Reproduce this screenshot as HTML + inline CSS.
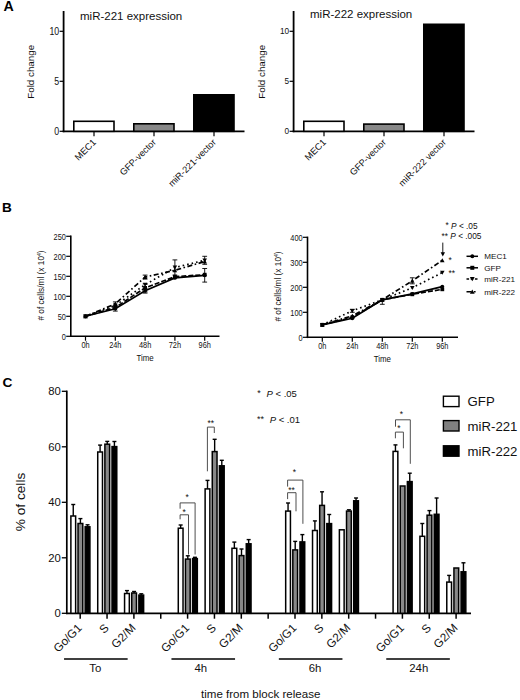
<!DOCTYPE html>
<html lang="en">
<head>
<meta charset="utf-8">
<title>miR-221 / miR-222 expression figure</title>
<style>
html,body{margin:0;padding:0;background:#fff;}
body{width:520px;height:700px;overflow:hidden;}
svg{display:block;font-family:"Liberation Sans", sans-serif;}
</style>
</head>
<body>
<svg width="520" height="700" viewBox="0 0 520 700">
<rect x="0" y="0" width="520" height="700" fill="#fff"/>
<g id="panelA">
<text x="3.60" y="11.40" font-size="14.2" text-anchor="start" fill="#000" font-weight="bold">A</text>
<line x1="63.60" y1="11.00" x2="63.60" y2="132.20" stroke="#000" stroke-width="1.8" />
<line x1="62.70" y1="131.30" x2="244.50" y2="131.30" stroke="#000" stroke-width="1.8" />
<line x1="59.60" y1="131.30" x2="63.60" y2="131.30" stroke="#000" stroke-width="1.2" />
<text transform="translate(59.20,134.90) scale(0.88,1)" font-size="10.0" text-anchor="end" fill="#111" >0</text>
<line x1="59.60" y1="81.30" x2="63.60" y2="81.30" stroke="#000" stroke-width="1.2" />
<text transform="translate(59.20,84.90) scale(0.88,1)" font-size="10.0" text-anchor="end" fill="#111" >5</text>
<line x1="59.60" y1="31.30" x2="63.60" y2="31.30" stroke="#000" stroke-width="1.2" />
<text transform="translate(59.20,34.90) scale(0.88,1)" font-size="10.0" text-anchor="end" fill="#111" >10</text>
<rect x="73.80" y="121.30" width="40.20" height="10.00" fill="#fff" stroke="#000" stroke-width="1.6"/>
<rect x="133.80" y="123.80" width="40.20" height="7.50" fill="#888888" stroke="#000" stroke-width="1.6"/>
<rect x="193.80" y="94.80" width="40.20" height="36.50" fill="#000" stroke="#000" stroke-width="1.6"/>
<line x1="94.00" y1="131.30" x2="94.00" y2="136.30" stroke="#000" stroke-width="1.2" />
<text transform="translate(96.60,142.90) rotate(-45)" font-size="9.2" text-anchor="end" fill="#111" >MEC1</text>
<line x1="154.00" y1="131.30" x2="154.00" y2="136.30" stroke="#000" stroke-width="1.2" />
<text transform="translate(156.60,142.90) rotate(-45)" font-size="9.2" text-anchor="end" fill="#111" >GFP-vector</text>
<line x1="214.00" y1="131.30" x2="214.00" y2="136.30" stroke="#000" stroke-width="1.2" />
<text transform="translate(216.60,142.90) rotate(-45)" font-size="9.2" text-anchor="end" fill="#111" >miR-221-vector</text>
<text x="80.00" y="20.30" font-size="11.5" text-anchor="start" fill="#111" >miR-221 expression</text>
<text transform="translate(33.80,71.80) rotate(-90)" font-size="9.8" text-anchor="middle" fill="#111" >Fold change</text>
<line x1="293.60" y1="11.00" x2="293.60" y2="132.20" stroke="#000" stroke-width="1.8" />
<line x1="292.70" y1="131.30" x2="474.50" y2="131.30" stroke="#000" stroke-width="1.8" />
<line x1="289.60" y1="131.30" x2="293.60" y2="131.30" stroke="#000" stroke-width="1.2" />
<text transform="translate(289.20,134.40) scale(0.97,1)" font-size="8.5" text-anchor="end" fill="#111" >0</text>
<line x1="289.60" y1="81.30" x2="293.60" y2="81.30" stroke="#000" stroke-width="1.2" />
<text transform="translate(289.20,84.40) scale(0.97,1)" font-size="8.5" text-anchor="end" fill="#111" >5</text>
<line x1="289.60" y1="31.30" x2="293.60" y2="31.30" stroke="#000" stroke-width="1.2" />
<text transform="translate(289.20,34.40) scale(0.97,1)" font-size="8.5" text-anchor="end" fill="#111" >10</text>
<rect x="303.80" y="121.30" width="40.20" height="10.00" fill="#fff" stroke="#000" stroke-width="1.6"/>
<rect x="363.80" y="124.10" width="40.20" height="7.20" fill="#888888" stroke="#000" stroke-width="1.6"/>
<rect x="423.80" y="24.30" width="40.20" height="107.00" fill="#000" stroke="#000" stroke-width="1.6"/>
<line x1="324.00" y1="131.30" x2="324.00" y2="136.30" stroke="#000" stroke-width="1.2" />
<text transform="translate(326.60,142.90) rotate(-45)" font-size="9.2" text-anchor="end" fill="#111" >MEC1</text>
<line x1="384.00" y1="131.30" x2="384.00" y2="136.30" stroke="#000" stroke-width="1.2" />
<text transform="translate(386.60,142.90) rotate(-45)" font-size="9.2" text-anchor="end" fill="#111" >GFP-vector</text>
<line x1="444.00" y1="131.30" x2="444.00" y2="136.30" stroke="#000" stroke-width="1.2" />
<text transform="translate(446.60,142.90) rotate(-45)" font-size="9.2" text-anchor="end" fill="#111" >miR-222 vector</text>
<text x="310.00" y="17.80" font-size="11.5" text-anchor="start" fill="#111" >miR-222 expression</text>
<text transform="translate(264.60,71.80) rotate(-90)" font-size="9.8" text-anchor="middle" fill="#111" >Fold change</text>
</g>
<g id="panelB">
<text x="2.00" y="212.40" font-size="13.6" text-anchor="start" fill="#000" font-weight="bold">B</text>
<line x1="70.80" y1="235.60" x2="70.80" y2="337.10" stroke="#000" stroke-width="1.6" />
<line x1="70.00" y1="336.30" x2="219.50" y2="336.30" stroke="#000" stroke-width="1.6" />
<line x1="66.20" y1="336.30" x2="70.80" y2="336.30" stroke="#000" stroke-width="1.2" />
<text transform="translate(65.90,339.80) scale(0.87,1)" font-size="8.5" text-anchor="end" fill="#111" >0</text>
<line x1="66.20" y1="316.30" x2="70.80" y2="316.30" stroke="#000" stroke-width="1.2" />
<text transform="translate(65.90,319.80) scale(0.87,1)" font-size="8.5" text-anchor="end" fill="#111" >50</text>
<line x1="66.20" y1="296.30" x2="70.80" y2="296.30" stroke="#000" stroke-width="1.2" />
<text transform="translate(65.90,299.80) scale(0.87,1)" font-size="8.5" text-anchor="end" fill="#111" >100</text>
<line x1="66.20" y1="276.30" x2="70.80" y2="276.30" stroke="#000" stroke-width="1.2" />
<text transform="translate(65.90,279.80) scale(0.87,1)" font-size="8.5" text-anchor="end" fill="#111" >150</text>
<line x1="66.20" y1="256.30" x2="70.80" y2="256.30" stroke="#000" stroke-width="1.2" />
<text transform="translate(65.90,259.80) scale(0.87,1)" font-size="8.5" text-anchor="end" fill="#111" >200</text>
<line x1="66.20" y1="236.30" x2="70.80" y2="236.30" stroke="#000" stroke-width="1.2" />
<text transform="translate(65.90,239.80) scale(0.87,1)" font-size="8.5" text-anchor="end" fill="#111" >250</text>
<line x1="85.50" y1="336.30" x2="85.50" y2="340.70" stroke="#000" stroke-width="1.2" />
<text transform="translate(85.50,347.90) scale(0.87,1)" font-size="8.5" text-anchor="middle" fill="#111" >0h</text>
<line x1="115.30" y1="336.30" x2="115.30" y2="340.70" stroke="#000" stroke-width="1.2" />
<text transform="translate(115.30,347.90) scale(0.87,1)" font-size="8.5" text-anchor="middle" fill="#111" >24h</text>
<line x1="145.10" y1="336.30" x2="145.10" y2="340.70" stroke="#000" stroke-width="1.2" />
<text transform="translate(145.10,347.90) scale(0.87,1)" font-size="8.5" text-anchor="middle" fill="#111" >48h</text>
<line x1="174.90" y1="336.30" x2="174.90" y2="340.70" stroke="#000" stroke-width="1.2" />
<text transform="translate(174.90,347.90) scale(0.87,1)" font-size="8.5" text-anchor="middle" fill="#111" >72h</text>
<line x1="204.70" y1="336.30" x2="204.70" y2="340.70" stroke="#000" stroke-width="1.2" />
<text transform="translate(204.70,347.90) scale(0.87,1)" font-size="8.5" text-anchor="middle" fill="#111" >96h</text>
<text transform="translate(145.10,360.90) scale(0.9,1)" font-size="8.8" text-anchor="middle" fill="#111" >Time</text>
<text transform="translate(44.3,285.50) rotate(-90)" font-size="8.3" text-anchor="middle" fill="#111"># of cells/ml (x 10<tspan font-size="5" dy="-3">4</tspan><tspan dy="3">)</tspan></text>
<polyline points="85.50,316.30 115.30,308.70 145.10,290.70 174.90,277.90 204.70,275.30" fill="none" stroke="#000" stroke-width="1.7" />
<circle cx="85.50" cy="316.30" r="1.90" fill="#000"/>
<line x1="115.30" y1="306.30" x2="115.30" y2="311.10" stroke="#000" stroke-width="0.9" />
<line x1="112.90" y1="306.30" x2="117.70" y2="306.30" stroke="#000" stroke-width="0.9" />
<line x1="112.90" y1="311.10" x2="117.70" y2="311.10" stroke="#000" stroke-width="0.9" />
<circle cx="115.30" cy="308.70" r="1.90" fill="#000"/>
<line x1="145.10" y1="288.30" x2="145.10" y2="293.10" stroke="#000" stroke-width="0.9" />
<line x1="142.70" y1="288.30" x2="147.50" y2="288.30" stroke="#000" stroke-width="0.9" />
<line x1="142.70" y1="293.10" x2="147.50" y2="293.10" stroke="#000" stroke-width="0.9" />
<circle cx="145.10" cy="290.70" r="1.90" fill="#000"/>
<circle cx="174.90" cy="277.90" r="1.90" fill="#000"/>
<line x1="204.70" y1="268.50" x2="204.70" y2="282.10" stroke="#000" stroke-width="0.9" />
<line x1="202.30" y1="268.50" x2="207.10" y2="268.50" stroke="#000" stroke-width="0.9" />
<line x1="202.30" y1="282.10" x2="207.10" y2="282.10" stroke="#000" stroke-width="0.9" />
<circle cx="204.70" cy="275.30" r="1.90" fill="#000"/>
<polyline points="85.50,316.30 115.30,307.50 145.10,287.90 174.90,276.70 204.70,274.70" fill="none" stroke="#000" stroke-width="1.7" stroke-dasharray="5 2"/>
<rect x="83.60" y="314.40" width="3.80" height="3.80" fill="#000"/>
<rect x="113.40" y="305.60" width="3.80" height="3.80" fill="#000"/>
<line x1="145.10" y1="283.90" x2="145.10" y2="291.90" stroke="#000" stroke-width="0.9" />
<line x1="142.70" y1="283.90" x2="147.50" y2="283.90" stroke="#000" stroke-width="0.9" />
<line x1="142.70" y1="291.90" x2="147.50" y2="291.90" stroke="#000" stroke-width="0.9" />
<rect x="143.20" y="286.00" width="3.80" height="3.80" fill="#000"/>
<rect x="173.00" y="274.80" width="3.80" height="3.80" fill="#000"/>
<rect x="202.80" y="272.80" width="3.80" height="3.80" fill="#000"/>
<polyline points="85.50,316.30 115.30,305.50 145.10,284.70 174.90,267.50 204.70,260.30" fill="none" stroke="#000" stroke-width="1.7" stroke-dasharray="1.6 3"/>
<path d="M83.22 314.40 L87.78 314.40 L85.50 318.39 Z" fill="#000"/>
<path d="M113.02 303.60 L117.58 303.60 L115.30 307.59 Z" fill="#000"/>
<path d="M142.82 282.80 L147.38 282.80 L145.10 286.79 Z" fill="#000"/>
<line x1="174.90" y1="259.90" x2="174.90" y2="275.10" stroke="#000" stroke-width="0.9" />
<line x1="172.50" y1="259.90" x2="177.30" y2="259.90" stroke="#000" stroke-width="0.9" />
<line x1="172.50" y1="275.10" x2="177.30" y2="275.10" stroke="#000" stroke-width="0.9" />
<path d="M172.62 265.60 L177.18 265.60 L174.90 269.59 Z" fill="#000"/>
<line x1="204.70" y1="256.30" x2="204.70" y2="264.30" stroke="#000" stroke-width="0.9" />
<line x1="202.30" y1="256.30" x2="207.10" y2="256.30" stroke="#000" stroke-width="0.9" />
<line x1="202.30" y1="264.30" x2="207.10" y2="264.30" stroke="#000" stroke-width="0.9" />
<path d="M202.42 258.40 L206.98 258.40 L204.70 262.39 Z" fill="#000"/>
<polyline points="85.50,316.30 115.30,303.90 145.10,277.10 174.90,270.30 204.70,261.50" fill="none" stroke="#000" stroke-width="1.7" stroke-dasharray="5 2.5 1.6 2.5"/>
<path d="M83.22 318.20 L87.78 318.20 L85.50 314.21 Z" fill="#000"/>
<line x1="115.30" y1="301.90" x2="115.30" y2="305.90" stroke="#000" stroke-width="0.9" />
<line x1="112.90" y1="301.90" x2="117.70" y2="301.90" stroke="#000" stroke-width="0.9" />
<line x1="112.90" y1="305.90" x2="117.70" y2="305.90" stroke="#000" stroke-width="0.9" />
<path d="M113.02 305.80 L117.58 305.80 L115.30 301.81 Z" fill="#000"/>
<line x1="145.10" y1="275.10" x2="145.10" y2="279.10" stroke="#000" stroke-width="0.9" />
<line x1="142.70" y1="275.10" x2="147.50" y2="275.10" stroke="#000" stroke-width="0.9" />
<line x1="142.70" y1="279.10" x2="147.50" y2="279.10" stroke="#000" stroke-width="0.9" />
<path d="M142.82 279.00 L147.38 279.00 L145.10 275.01 Z" fill="#000"/>
<path d="M172.62 272.20 L177.18 272.20 L174.90 268.21 Z" fill="#000"/>
<path d="M202.42 263.40 L206.98 263.40 L204.70 259.41 Z" fill="#000"/>
<line x1="307.50" y1="236.60" x2="307.50" y2="338.10" stroke="#000" stroke-width="1.6" />
<line x1="306.70" y1="337.30" x2="458.00" y2="337.30" stroke="#000" stroke-width="1.6" />
<line x1="302.90" y1="337.30" x2="307.50" y2="337.30" stroke="#000" stroke-width="1.2" />
<text transform="translate(302.60,340.80) scale(0.87,1)" font-size="8.5" text-anchor="end" fill="#111" >0</text>
<line x1="302.90" y1="312.30" x2="307.50" y2="312.30" stroke="#000" stroke-width="1.2" />
<text transform="translate(302.60,315.80) scale(0.87,1)" font-size="8.5" text-anchor="end" fill="#111" >100</text>
<line x1="302.90" y1="287.30" x2="307.50" y2="287.30" stroke="#000" stroke-width="1.2" />
<text transform="translate(302.60,290.80) scale(0.87,1)" font-size="8.5" text-anchor="end" fill="#111" >200</text>
<line x1="302.90" y1="262.30" x2="307.50" y2="262.30" stroke="#000" stroke-width="1.2" />
<text transform="translate(302.60,265.80) scale(0.87,1)" font-size="8.5" text-anchor="end" fill="#111" >300</text>
<line x1="302.90" y1="237.30" x2="307.50" y2="237.30" stroke="#000" stroke-width="1.2" />
<text transform="translate(302.60,240.80) scale(0.87,1)" font-size="8.5" text-anchor="end" fill="#111" >400</text>
<line x1="322.30" y1="337.30" x2="322.30" y2="341.70" stroke="#000" stroke-width="1.2" />
<text transform="translate(322.30,348.90) scale(0.87,1)" font-size="8.5" text-anchor="middle" fill="#111" >0h</text>
<line x1="352.30" y1="337.30" x2="352.30" y2="341.70" stroke="#000" stroke-width="1.2" />
<text transform="translate(352.30,348.90) scale(0.87,1)" font-size="8.5" text-anchor="middle" fill="#111" >24h</text>
<line x1="382.30" y1="337.30" x2="382.30" y2="341.70" stroke="#000" stroke-width="1.2" />
<text transform="translate(382.30,348.90) scale(0.87,1)" font-size="8.5" text-anchor="middle" fill="#111" >48h</text>
<line x1="412.30" y1="337.30" x2="412.30" y2="341.70" stroke="#000" stroke-width="1.2" />
<text transform="translate(412.30,348.90) scale(0.87,1)" font-size="8.5" text-anchor="middle" fill="#111" >72h</text>
<line x1="442.30" y1="337.30" x2="442.30" y2="341.70" stroke="#000" stroke-width="1.2" />
<text transform="translate(442.30,348.90) scale(0.87,1)" font-size="8.5" text-anchor="middle" fill="#111" >96h</text>
<text transform="translate(382.30,361.90) scale(0.9,1)" font-size="8.8" text-anchor="middle" fill="#111" >Time</text>
<text transform="translate(281.0,286.50) rotate(-90)" font-size="8.3" text-anchor="middle" fill="#111"># of cells/ml (x 10<tspan font-size="5" dy="-3">4</tspan><tspan dy="3">)</tspan></text>
<polyline points="322.30,324.80 352.30,318.30 382.30,299.80 412.30,293.80 442.30,286.55" fill="none" stroke="#000" stroke-width="1.7" />
<circle cx="322.30" cy="324.80" r="1.90" fill="#000"/>
<circle cx="352.30" cy="318.30" r="1.90" fill="#000"/>
<line x1="382.30" y1="299.80" x2="382.30" y2="304.30" stroke="#000" stroke-width="0.9" />
<line x1="379.90" y1="304.30" x2="384.70" y2="304.30" stroke="#000" stroke-width="0.9" />
<circle cx="382.30" cy="299.80" r="1.90" fill="#000"/>
<circle cx="412.30" cy="293.80" r="1.90" fill="#000"/>
<circle cx="442.30" cy="286.55" r="1.90" fill="#000"/>
<polyline points="322.30,324.80 352.30,317.30 382.30,299.80 412.30,294.30 442.30,289.30" fill="none" stroke="#000" stroke-width="1.7" stroke-dasharray="5 2"/>
<rect x="320.40" y="322.90" width="3.80" height="3.80" fill="#000"/>
<rect x="350.40" y="315.40" width="3.80" height="3.80" fill="#000"/>
<rect x="380.40" y="297.90" width="3.80" height="3.80" fill="#000"/>
<rect x="410.40" y="292.40" width="3.80" height="3.80" fill="#000"/>
<rect x="440.40" y="287.40" width="3.80" height="3.80" fill="#000"/>
<polyline points="322.30,324.80 352.30,310.80 382.30,299.80 412.30,287.80 442.30,272.55" fill="none" stroke="#000" stroke-width="1.7" stroke-dasharray="1.6 3"/>
<path d="M320.02 322.90 L324.58 322.90 L322.30 326.89 Z" fill="#000"/>
<line x1="352.30" y1="309.30" x2="352.30" y2="312.30" stroke="#000" stroke-width="0.9" />
<line x1="349.90" y1="309.30" x2="354.70" y2="309.30" stroke="#000" stroke-width="0.9" />
<line x1="349.90" y1="312.30" x2="354.70" y2="312.30" stroke="#000" stroke-width="0.9" />
<path d="M350.02 308.90 L354.58 308.90 L352.30 312.89 Z" fill="#000"/>
<path d="M380.02 297.90 L384.58 297.90 L382.30 301.89 Z" fill="#000"/>
<path d="M410.02 285.90 L414.58 285.90 L412.30 289.89 Z" fill="#000"/>
<path d="M440.02 270.65 L444.58 270.65 L442.30 274.64 Z" fill="#000"/>
<polyline points="322.30,324.80 352.30,315.80 382.30,299.80 412.30,280.80 442.30,260.30" fill="none" stroke="#000" stroke-width="1.7" stroke-dasharray="5 2.5 1.6 2.5"/>
<path d="M320.02 326.70 L324.58 326.70 L322.30 322.71 Z" fill="#000"/>
<path d="M350.02 317.70 L354.58 317.70 L352.30 313.71 Z" fill="#000"/>
<path d="M380.02 301.70 L384.58 301.70 L382.30 297.71 Z" fill="#000"/>
<line x1="412.30" y1="277.80" x2="412.30" y2="283.80" stroke="#000" stroke-width="0.9" />
<line x1="409.90" y1="277.80" x2="414.70" y2="277.80" stroke="#000" stroke-width="0.9" />
<line x1="409.90" y1="283.80" x2="414.70" y2="283.80" stroke="#000" stroke-width="0.9" />
<path d="M410.02 282.70 L414.58 282.70 L412.30 278.71 Z" fill="#000"/>
<path d="M440.02 262.20 L444.58 262.20 L442.30 258.21 Z" fill="#000"/>
<text x="445.50" y="229.20" font-size="8.3" text-anchor="start" fill="#111" ><tspan dy="-1.1">*</tspan><tspan dy="1.1"> </tspan><tspan font-style="italic">P</tspan> &lt; .05</text>
<text x="441.50" y="239.30" font-size="8.3" text-anchor="start" fill="#111" ><tspan dy="-0.8">**</tspan><tspan dy="0.8"> </tspan><tspan font-style="italic">P</tspan> &lt; .005</text>
<line x1="442.80" y1="242.60" x2="442.80" y2="254.00" stroke="#000" stroke-width="0.9" />
<path d="M440.6 252.2 L442.8 256.6 L445 252.2 Z" fill="#000"/>
<text x="448.50" y="263.00" font-size="8.5" text-anchor="start" fill="#111" >*</text>
<text x="448.50" y="275.50" font-size="8.5" text-anchor="start" fill="#111" >**</text>
<line x1="466.5" y1="256.3" x2="478" y2="256.3" stroke="#000" stroke-width="1.5" />
<circle cx="472.30" cy="256.30" r="2.00" fill="#000"/>
<text x="484.30" y="259.20" font-size="8.1" text-anchor="start" fill="#111" >MEC1</text>
<line x1="466.5" y1="267.8" x2="478" y2="267.8" stroke="#000" stroke-width="1.5" />
<rect x="470.30" y="265.80" width="4.00" height="4.00" fill="#000"/>
<text x="484.30" y="270.70" font-size="8.1" text-anchor="start" fill="#111" >GFP</text>
<line x1="466.5" y1="279.0" x2="478" y2="279.0" stroke="#000" stroke-width="1.5" stroke-dasharray='2.6 1.6'/>
<path d="M469.90 277.00 L474.70 277.00 L472.30 281.20 Z" fill="#000"/>
<text x="484.30" y="281.90" font-size="8.1" text-anchor="start" fill="#111" >miR-221</text>
<line x1="466.5" y1="291.8" x2="478" y2="291.8" stroke="#000" stroke-width="1.5" stroke-dasharray="5 2.5 1.6 2.5"/>
<path d="M469.90 293.80 L474.70 293.80 L472.30 289.60 Z" fill="#000"/>
<text x="484.30" y="294.70" font-size="8.1" text-anchor="start" fill="#111" >miR-222</text>
</g>
<g id="panelC">
<text x="2.50" y="387.10" font-size="13.7" text-anchor="start" fill="#000" font-weight="bold">C</text>
<line x1="66.80" y1="390.60" x2="66.80" y2="614.10" stroke="#000" stroke-width="1.7" />
<line x1="66.00" y1="613.30" x2="471.00" y2="613.30" stroke="#000" stroke-width="1.7" />
<line x1="61.80" y1="613.30" x2="66.80" y2="613.30" stroke="#000" stroke-width="1.3" />
<text x="60.80" y="617.30" font-size="11.3" text-anchor="end" fill="#111" >0</text>
<line x1="61.80" y1="557.80" x2="66.80" y2="557.80" stroke="#000" stroke-width="1.3" />
<text x="60.80" y="561.80" font-size="11.3" text-anchor="end" fill="#111" >20</text>
<line x1="61.80" y1="502.30" x2="66.80" y2="502.30" stroke="#000" stroke-width="1.3" />
<text x="60.80" y="506.30" font-size="11.3" text-anchor="end" fill="#111" >40</text>
<line x1="61.80" y1="446.80" x2="66.80" y2="446.80" stroke="#000" stroke-width="1.3" />
<text x="60.80" y="450.80" font-size="11.3" text-anchor="end" fill="#111" >60</text>
<line x1="61.80" y1="391.30" x2="66.80" y2="391.30" stroke="#000" stroke-width="1.3" />
<text x="60.80" y="395.30" font-size="11.3" text-anchor="end" fill="#111" >80</text>
<text transform="translate(24.60,502.00) rotate(-90)" font-size="13.7" text-anchor="middle" fill="#111" >% of cells</text>
<line x1="80.20" y1="613.30" x2="80.20" y2="618.70" stroke="#000" stroke-width="1.5" />
<line x1="73.25" y1="516.00" x2="73.25" y2="504.50" stroke="#000" stroke-width="1.4" />
<line x1="71.25" y1="504.50" x2="75.25" y2="504.50" stroke="#000" stroke-width="1.4" />
<rect x="70.88" y="516.00" width="4.75" height="97.30" fill="#fff" stroke="#000" stroke-width="1.5"/>
<line x1="80.40" y1="523.50" x2="80.40" y2="518.60" stroke="#000" stroke-width="1.4" />
<line x1="78.40" y1="518.60" x2="82.40" y2="518.60" stroke="#000" stroke-width="1.4" />
<rect x="78.03" y="523.50" width="4.75" height="89.80" fill="#888888" stroke="#000" stroke-width="1.5"/>
<line x1="87.55" y1="526.80" x2="87.55" y2="524.80" stroke="#000" stroke-width="1.4" />
<line x1="85.55" y1="524.80" x2="89.55" y2="524.80" stroke="#000" stroke-width="1.4" />
<rect x="85.17" y="526.80" width="4.75" height="86.50" fill="#000" stroke="#000" stroke-width="1.5"/>
<text transform="translate(82.60,628.70) rotate(-45)" font-size="11.7" text-anchor="end" fill="#111" >Go/G1</text>
<line x1="107.05" y1="613.30" x2="107.05" y2="618.70" stroke="#000" stroke-width="1.5" />
<line x1="100.10" y1="452.00" x2="100.10" y2="445.10" stroke="#000" stroke-width="1.4" />
<line x1="98.10" y1="445.10" x2="102.10" y2="445.10" stroke="#000" stroke-width="1.4" />
<rect x="97.73" y="452.00" width="4.75" height="161.30" fill="#fff" stroke="#000" stroke-width="1.5"/>
<line x1="107.25" y1="444.20" x2="107.25" y2="441.40" stroke="#000" stroke-width="1.4" />
<line x1="105.25" y1="441.40" x2="109.25" y2="441.40" stroke="#000" stroke-width="1.4" />
<rect x="104.88" y="444.20" width="4.75" height="169.10" fill="#888888" stroke="#000" stroke-width="1.5"/>
<line x1="114.40" y1="446.60" x2="114.40" y2="441.50" stroke="#000" stroke-width="1.4" />
<line x1="112.40" y1="441.50" x2="116.40" y2="441.50" stroke="#000" stroke-width="1.4" />
<rect x="112.03" y="446.60" width="4.75" height="166.70" fill="#000" stroke="#000" stroke-width="1.5"/>
<text transform="translate(109.45,628.70) rotate(-45)" font-size="11.7" text-anchor="end" fill="#111" >S</text>
<line x1="133.90" y1="613.30" x2="133.90" y2="618.70" stroke="#000" stroke-width="1.5" />
<line x1="126.95" y1="593.50" x2="126.95" y2="590.60" stroke="#000" stroke-width="1.4" />
<line x1="124.95" y1="590.60" x2="128.95" y2="590.60" stroke="#000" stroke-width="1.4" />
<rect x="124.57" y="593.50" width="4.75" height="19.80" fill="#fff" stroke="#000" stroke-width="1.5"/>
<line x1="134.10" y1="593.00" x2="134.10" y2="591.50" stroke="#000" stroke-width="1.4" />
<line x1="132.10" y1="591.50" x2="136.10" y2="591.50" stroke="#000" stroke-width="1.4" />
<rect x="131.72" y="593.00" width="4.75" height="20.30" fill="#888888" stroke="#000" stroke-width="1.5"/>
<line x1="141.25" y1="595.10" x2="141.25" y2="593.80" stroke="#000" stroke-width="1.4" />
<line x1="139.25" y1="593.80" x2="143.25" y2="593.80" stroke="#000" stroke-width="1.4" />
<rect x="138.88" y="595.10" width="4.75" height="18.20" fill="#000" stroke="#000" stroke-width="1.5"/>
<text transform="translate(136.30,628.70) rotate(-45)" font-size="11.7" text-anchor="end" fill="#111" >G2/M</text>
<line x1="160.75" y1="613.30" x2="160.75" y2="618.70" stroke="#000" stroke-width="1.5" />
<line x1="187.60" y1="613.30" x2="187.60" y2="618.70" stroke="#000" stroke-width="1.5" />
<line x1="180.65" y1="528.20" x2="180.65" y2="525.00" stroke="#000" stroke-width="1.4" />
<line x1="178.65" y1="525.00" x2="182.65" y2="525.00" stroke="#000" stroke-width="1.4" />
<rect x="178.28" y="528.20" width="4.75" height="85.10" fill="#fff" stroke="#000" stroke-width="1.5"/>
<line x1="187.80" y1="559.10" x2="187.80" y2="555.80" stroke="#000" stroke-width="1.4" />
<line x1="185.80" y1="555.80" x2="189.80" y2="555.80" stroke="#000" stroke-width="1.4" />
<rect x="185.43" y="559.10" width="4.75" height="54.20" fill="#888888" stroke="#000" stroke-width="1.5"/>
<line x1="194.95" y1="558.60" x2="194.95" y2="557.30" stroke="#000" stroke-width="1.4" />
<line x1="192.95" y1="557.30" x2="196.95" y2="557.30" stroke="#000" stroke-width="1.4" />
<rect x="192.58" y="558.60" width="4.75" height="54.70" fill="#000" stroke="#000" stroke-width="1.5"/>
<text transform="translate(190.00,628.70) rotate(-45)" font-size="11.7" text-anchor="end" fill="#111" >Go/G1</text>
<line x1="214.45" y1="613.30" x2="214.45" y2="618.70" stroke="#000" stroke-width="1.5" />
<line x1="207.50" y1="488.90" x2="207.50" y2="480.40" stroke="#000" stroke-width="1.4" />
<line x1="205.50" y1="480.40" x2="209.50" y2="480.40" stroke="#000" stroke-width="1.4" />
<rect x="205.12" y="488.90" width="4.75" height="124.40" fill="#fff" stroke="#000" stroke-width="1.5"/>
<line x1="214.65" y1="451.60" x2="214.65" y2="439.30" stroke="#000" stroke-width="1.4" />
<line x1="212.65" y1="439.30" x2="216.65" y2="439.30" stroke="#000" stroke-width="1.4" />
<rect x="212.27" y="451.60" width="4.75" height="161.70" fill="#888888" stroke="#000" stroke-width="1.5"/>
<line x1="221.80" y1="465.80" x2="221.80" y2="460.30" stroke="#000" stroke-width="1.4" />
<line x1="219.80" y1="460.30" x2="223.80" y2="460.30" stroke="#000" stroke-width="1.4" />
<rect x="219.42" y="465.80" width="4.75" height="147.50" fill="#000" stroke="#000" stroke-width="1.5"/>
<text transform="translate(216.85,628.70) rotate(-45)" font-size="11.7" text-anchor="end" fill="#111" >S</text>
<line x1="241.30" y1="613.30" x2="241.30" y2="618.70" stroke="#000" stroke-width="1.5" />
<line x1="234.35" y1="548.30" x2="234.35" y2="542.10" stroke="#000" stroke-width="1.4" />
<line x1="232.35" y1="542.10" x2="236.35" y2="542.10" stroke="#000" stroke-width="1.4" />
<rect x="231.97" y="548.30" width="4.75" height="65.00" fill="#fff" stroke="#000" stroke-width="1.5"/>
<line x1="241.50" y1="555.60" x2="241.50" y2="549.00" stroke="#000" stroke-width="1.4" />
<line x1="239.50" y1="549.00" x2="243.50" y2="549.00" stroke="#000" stroke-width="1.4" />
<rect x="239.12" y="555.60" width="4.75" height="57.70" fill="#888888" stroke="#000" stroke-width="1.5"/>
<line x1="248.65" y1="543.80" x2="248.65" y2="539.60" stroke="#000" stroke-width="1.4" />
<line x1="246.65" y1="539.60" x2="250.65" y2="539.60" stroke="#000" stroke-width="1.4" />
<rect x="246.28" y="543.80" width="4.75" height="69.50" fill="#000" stroke="#000" stroke-width="1.5"/>
<text transform="translate(243.70,628.70) rotate(-45)" font-size="11.7" text-anchor="end" fill="#111" >G2/M</text>
<line x1="268.15" y1="613.30" x2="268.15" y2="618.70" stroke="#000" stroke-width="1.5" />
<line x1="295.00" y1="613.30" x2="295.00" y2="618.70" stroke="#000" stroke-width="1.5" />
<line x1="288.05" y1="511.10" x2="288.05" y2="503.00" stroke="#000" stroke-width="1.4" />
<line x1="286.05" y1="503.00" x2="290.05" y2="503.00" stroke="#000" stroke-width="1.4" />
<rect x="285.68" y="511.10" width="4.75" height="102.20" fill="#fff" stroke="#000" stroke-width="1.5"/>
<line x1="295.20" y1="549.90" x2="295.20" y2="541.40" stroke="#000" stroke-width="1.4" />
<line x1="293.20" y1="541.40" x2="297.20" y2="541.40" stroke="#000" stroke-width="1.4" />
<rect x="292.82" y="549.90" width="4.75" height="63.40" fill="#888888" stroke="#000" stroke-width="1.5"/>
<line x1="302.35" y1="541.90" x2="302.35" y2="534.60" stroke="#000" stroke-width="1.4" />
<line x1="300.35" y1="534.60" x2="304.35" y2="534.60" stroke="#000" stroke-width="1.4" />
<rect x="299.98" y="541.90" width="4.75" height="71.40" fill="#000" stroke="#000" stroke-width="1.5"/>
<text transform="translate(297.40,628.70) rotate(-45)" font-size="11.7" text-anchor="end" fill="#111" >Go/G1</text>
<line x1="321.85" y1="613.30" x2="321.85" y2="618.70" stroke="#000" stroke-width="1.5" />
<line x1="314.90" y1="530.50" x2="314.90" y2="520.90" stroke="#000" stroke-width="1.4" />
<line x1="312.90" y1="520.90" x2="316.90" y2="520.90" stroke="#000" stroke-width="1.4" />
<rect x="312.53" y="530.50" width="4.75" height="82.80" fill="#fff" stroke="#000" stroke-width="1.5"/>
<line x1="322.05" y1="505.40" x2="322.05" y2="491.80" stroke="#000" stroke-width="1.4" />
<line x1="320.05" y1="491.80" x2="324.05" y2="491.80" stroke="#000" stroke-width="1.4" />
<rect x="319.68" y="505.40" width="4.75" height="107.90" fill="#888888" stroke="#000" stroke-width="1.5"/>
<line x1="329.20" y1="523.60" x2="329.20" y2="514.50" stroke="#000" stroke-width="1.4" />
<line x1="327.20" y1="514.50" x2="331.20" y2="514.50" stroke="#000" stroke-width="1.4" />
<rect x="326.83" y="523.60" width="4.75" height="89.70" fill="#000" stroke="#000" stroke-width="1.5"/>
<text transform="translate(324.25,628.70) rotate(-45)" font-size="11.7" text-anchor="end" fill="#111" >S</text>
<line x1="348.70" y1="613.30" x2="348.70" y2="618.70" stroke="#000" stroke-width="1.5" />
<rect x="339.38" y="529.80" width="4.75" height="83.50" fill="#fff" stroke="#000" stroke-width="1.5"/>
<line x1="348.90" y1="511.10" x2="348.90" y2="509.80" stroke="#000" stroke-width="1.4" />
<line x1="346.90" y1="509.80" x2="350.90" y2="509.80" stroke="#000" stroke-width="1.4" />
<rect x="346.52" y="511.10" width="4.75" height="102.20" fill="#888888" stroke="#000" stroke-width="1.5"/>
<line x1="356.05" y1="500.80" x2="356.05" y2="498.00" stroke="#000" stroke-width="1.4" />
<line x1="354.05" y1="498.00" x2="358.05" y2="498.00" stroke="#000" stroke-width="1.4" />
<rect x="353.68" y="500.80" width="4.75" height="112.50" fill="#000" stroke="#000" stroke-width="1.5"/>
<text transform="translate(351.10,628.70) rotate(-45)" font-size="11.7" text-anchor="end" fill="#111" >G2/M</text>
<line x1="375.55" y1="613.30" x2="375.55" y2="618.70" stroke="#000" stroke-width="1.5" />
<line x1="402.40" y1="613.30" x2="402.40" y2="618.70" stroke="#000" stroke-width="1.5" />
<line x1="395.45" y1="451.40" x2="395.45" y2="444.90" stroke="#000" stroke-width="1.4" />
<line x1="393.45" y1="444.90" x2="397.45" y2="444.90" stroke="#000" stroke-width="1.4" />
<rect x="393.08" y="451.40" width="4.75" height="161.90" fill="#fff" stroke="#000" stroke-width="1.5"/>
<rect x="400.23" y="486.00" width="4.75" height="127.30" fill="#888888" stroke="#000" stroke-width="1.5"/>
<line x1="409.75" y1="481.60" x2="409.75" y2="473.20" stroke="#000" stroke-width="1.4" />
<line x1="407.75" y1="473.20" x2="411.75" y2="473.20" stroke="#000" stroke-width="1.4" />
<rect x="407.38" y="481.60" width="4.75" height="131.70" fill="#000" stroke="#000" stroke-width="1.5"/>
<text transform="translate(404.80,628.70) rotate(-45)" font-size="11.7" text-anchor="end" fill="#111" >Go/G1</text>
<line x1="429.25" y1="613.30" x2="429.25" y2="618.70" stroke="#000" stroke-width="1.5" />
<line x1="422.30" y1="536.30" x2="422.30" y2="523.50" stroke="#000" stroke-width="1.4" />
<line x1="420.30" y1="523.50" x2="424.30" y2="523.50" stroke="#000" stroke-width="1.4" />
<rect x="419.93" y="536.30" width="4.75" height="77.00" fill="#fff" stroke="#000" stroke-width="1.5"/>
<line x1="429.45" y1="515.20" x2="429.45" y2="510.60" stroke="#000" stroke-width="1.4" />
<line x1="427.45" y1="510.60" x2="431.45" y2="510.60" stroke="#000" stroke-width="1.4" />
<rect x="427.07" y="515.20" width="4.75" height="98.10" fill="#888888" stroke="#000" stroke-width="1.5"/>
<line x1="436.60" y1="514.30" x2="436.60" y2="498.00" stroke="#000" stroke-width="1.4" />
<line x1="434.60" y1="498.00" x2="438.60" y2="498.00" stroke="#000" stroke-width="1.4" />
<rect x="434.23" y="514.30" width="4.75" height="99.00" fill="#000" stroke="#000" stroke-width="1.5"/>
<text transform="translate(431.65,628.70) rotate(-45)" font-size="11.7" text-anchor="end" fill="#111" >S</text>
<line x1="456.10" y1="613.30" x2="456.10" y2="618.70" stroke="#000" stroke-width="1.5" />
<line x1="449.15" y1="582.10" x2="449.15" y2="575.40" stroke="#000" stroke-width="1.4" />
<line x1="447.15" y1="575.40" x2="451.15" y2="575.40" stroke="#000" stroke-width="1.4" />
<rect x="446.78" y="582.10" width="4.75" height="31.20" fill="#fff" stroke="#000" stroke-width="1.5"/>
<rect x="453.93" y="568.00" width="4.75" height="45.30" fill="#888888" stroke="#000" stroke-width="1.5"/>
<line x1="463.45" y1="571.80" x2="463.45" y2="562.80" stroke="#000" stroke-width="1.4" />
<line x1="461.45" y1="562.80" x2="465.45" y2="562.80" stroke="#000" stroke-width="1.4" />
<rect x="461.08" y="571.80" width="4.75" height="41.50" fill="#000" stroke="#000" stroke-width="1.5"/>
<text transform="translate(458.50,628.70) rotate(-45)" font-size="11.7" text-anchor="end" fill="#111" >G2/M</text>
<line x1="64.05" y1="659.10" x2="127.65" y2="659.10" stroke="#000" stroke-width="1.5" />
<text x="95.30" y="672.00" font-size="11.4" text-anchor="middle" fill="#111" >To</text>
<line x1="171.45" y1="659.10" x2="235.05" y2="659.10" stroke="#000" stroke-width="1.5" />
<text x="200.80" y="672.00" font-size="11.4" text-anchor="middle" fill="#111" >4h</text>
<line x1="278.85" y1="659.10" x2="342.45" y2="659.10" stroke="#000" stroke-width="1.5" />
<text x="315.00" y="672.00" font-size="11.4" text-anchor="middle" fill="#111" >6h</text>
<line x1="386.25" y1="659.10" x2="449.85" y2="659.10" stroke="#000" stroke-width="1.5" />
<text x="418.80" y="672.00" font-size="11.4" text-anchor="middle" fill="#111" >24h</text>
<text x="201.00" y="697.60" font-size="11.55" text-anchor="start" fill="#111" >time from block release</text>
<text x="257.30" y="396.20" font-size="9.0" text-anchor="start" fill="#111" >*</text>
<text x="266.5" y="397.0" font-size="9.5" fill="#111"><tspan font-style="italic">P</tspan> &lt; .05</text>
<text x="257.00" y="422.40" font-size="9.0" text-anchor="start" fill="#111" >**</text>
<text x="269.7" y="423.3" font-size="9.5" fill="#111"><tspan font-style="italic">P</tspan> &lt; .01</text>
<rect x="443.40" y="396.20" width="15.60" height="10.40" fill="#fff" stroke="#000" stroke-width="1.4"/>
<text x="467.60" y="406.30" font-size="13.2" text-anchor="start" fill="#111" >GFP</text>
<rect x="443.40" y="420.60" width="15.60" height="10.40" fill="#808080" stroke="#000" stroke-width="1.4"/>
<text x="467.60" y="430.70" font-size="13.2" text-anchor="start" fill="#111" >miR-221</text>
<rect x="443.40" y="445.80" width="15.60" height="10.40" fill="#000" stroke="#000" stroke-width="1.4"/>
<text x="467.60" y="455.90" font-size="13.2" text-anchor="start" fill="#111" >miR-222</text>
<path d="M180.10 519.30 L180.10 514.80 L188.50 514.80 L188.50 554.50" fill="none" stroke="#444" stroke-width="0.95"/>
<text x="184.20" y="515.10" font-size="8.5" text-anchor="middle" fill="#111" >*</text>
<path d="M180.10 508.70 L180.10 502.90 L195.10 502.90 L195.10 554.50" fill="none" stroke="#444" stroke-width="0.95"/>
<text x="187.10" y="500.00" font-size="8.5" text-anchor="middle" fill="#111" >*</text>
<path d="M207.40 471.30 L207.40 427.10 L214.30 427.10 L214.30 433.00" fill="none" stroke="#444" stroke-width="0.95"/>
<text x="210.80" y="425.60" font-size="8.5" text-anchor="middle" fill="#111" >**</text>
<path d="M287.60 499.10 L287.60 492.70 L296.00 492.70 L296.00 511.30" fill="none" stroke="#444" stroke-width="0.95"/>
<text x="291.60" y="492.70" font-size="8.5" text-anchor="middle" fill="#111" >**</text>
<path d="M287.60 486.60 L287.60 480.10 L302.90 480.10 L302.90 523.80" fill="none" stroke="#444" stroke-width="0.95"/>
<text x="294.50" y="475.20" font-size="8.5" text-anchor="middle" fill="#111" >*</text>
<path d="M395.40 438.30 L395.40 432.10 L403.40 432.10 L403.40 448.30" fill="none" stroke="#444" stroke-width="0.95"/>
<text x="399.00" y="430.50" font-size="8.5" text-anchor="middle" fill="#111" >*</text>
<path d="M395.50 426.70 L395.50 419.80 L410.30 419.80 L410.30 463.80" fill="none" stroke="#444" stroke-width="0.95"/>
<text x="401.40" y="417.00" font-size="8.5" text-anchor="middle" fill="#111" >*</text>
<!--brackets-->
</g>
</svg>
</body>
</html>
